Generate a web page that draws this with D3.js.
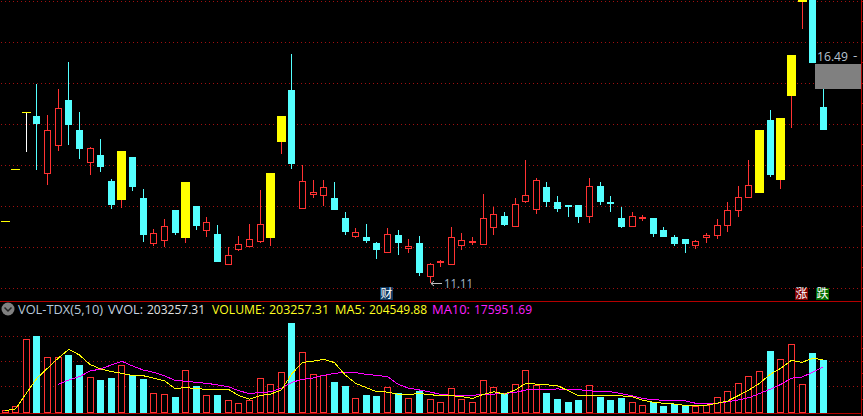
<!DOCTYPE html>
<html><head><meta charset="utf-8">
<script src="https://cdn.jsdelivr.net/npm/d3@7/dist/d3.min.js"></script>
<style>html,body{margin:0;padding:0;background:#000;overflow:hidden}svg{display:block}text{font-family:"Open Sans","Noto Sans",sans-serif}</style>
</head><body><svg id="c" width="863" height="416"></svg>
<script>
const opens=[12.63,13.90,15.29,15.20,13.80,14.50,15.59,14.86,14.09,14.25,13.62,13.15,14.20,13.20,12.11,12.19,12.91,12.23,13.01,12.41,12.33,11.60,11.97,12.04,12.16,12.23,14.57,15.84,12.97,13.31,13.28,13.20,12.72,12.28,12.25,12.11,11.89,12.30,11.99,12.11,11.31,11.63,11.60,12.06,12.14,12.09,12.50,12.76,12.53,13.13,12.94,13.47,13.11,13.03,13.04,12.76,13.50,13.11,12.72,12.51,12.72,12.72,12.41,12.26,12.21,12.05,12.25,12.29,12.54,12.90,13.22,13.33,15.11,13.63,15.70,17.99,19.20,15.43];
const closes=[12.63,13.90,15.29,15.01,14.85,15.39,14.98,14.40,14.41,13.96,13.03,14.35,13.47,12.30,12.34,12.51,12.35,13.59,12.52,12.61,11.64,11.81,12.07,12.20,12.56,13.81,15.20,14.03,13.61,13.34,13.46,12.91,12.37,12.37,12.15,11.93,12.32,12.11,12.02,11.37,11.59,11.67,12.24,12.17,12.15,12.71,12.81,12.55,13.05,13.27,13.63,13.11,12.94,12.99,12.75,13.50,13.11,13.05,12.50,12.76,12.75,12.33,12.26,12.07,12.07,12.15,12.29,12.55,12.91,13.23,13.52,14.87,13.77,15.16,16.68,18.60,16.49,14.87];
const highs=[12.63,13.90,15.29,15.98,15.23,15.85,16.52,15.30,14.45,14.64,13.67,14.35,14.20,13.42,12.45,12.69,12.91,13.59,13.01,12.74,12.55,12.01,12.28,12.57,13.40,13.81,15.20,16.72,14.00,13.64,13.64,13.59,12.86,12.47,12.57,12.13,12.47,12.42,12.20,12.28,11.62,11.69,12.50,12.35,12.25,13.30,12.98,12.86,13.20,14.13,13.69,13.59,13.25,13.03,13.04,13.68,13.60,13.26,12.99,12.87,12.80,12.72,12.50,12.31,12.21,12.19,12.36,12.68,13.11,13.50,14.14,14.87,15.36,15.16,16.68,18.60,19.20,16.10];
const lows=[12.63,13.90,14.33,13.89,13.52,14.35,14.50,14.16,13.76,13.84,12.94,12.96,13.37,12.13,12.03,12.01,12.30,12.11,12.42,12.25,11.64,11.60,11.91,12.04,12.11,12.03,14.28,13.91,12.97,13.20,13.01,12.91,12.30,12.23,12.11,11.72,11.89,11.81,11.86,11.30,11.14,11.52,11.60,11.93,12.06,12.06,12.30,12.52,12.53,13.08,12.81,12.98,12.86,12.74,12.60,12.60,13.04,12.87,12.46,12.51,12.63,12.26,12.24,12.02,11.87,11.97,12.11,12.21,12.38,12.75,13.22,13.33,13.72,13.43,14.92,17.33,16.49,14.87];
const yellowDays=[0,1,2,11,17,25,26,71,73,74,75];
const whiteWickDays=[2];
const vols=[8,22,284,297,214,214,223,184,136,125,133,182,145,129,73,69,59,163,102,65,66,46,34,46,132,108,155,347,233,147,143,117,102,53,66,63,96,74,53,82,50,38,93,50,38,124,96,69,108,163,106,74,51,39,47,104,59,47,55,38,26,38,23,31,23,22,26,57,81,112,139,159,238,206,265,108,231,203.257];
const ma5=[5,12,73,132,171,210,245,223,186,168,158,151,143,142,132,122,91,96,91,89,89,89,64,50,64,70,86,150,194,199,206,193,145,112,95,79,78,69,69,72,68,63,64,60,53,69,79,70,86,112,109,106,103,83,63,63,63,63,63,60,46,38,34,31,26,26,27,34,43,64,86,112,147,171,202,194,210,204.55];
const ma10=[null,null,null,null,null,108,125,138,160,168,184,198,180,164,155,141,124,120,116,112,106,99,83,72,76,79,93,116,128,133,143,151,155,154,147,143,138,108,93,86,78,69,65,65,65,69,70,73,76,86,89,89,90,89,87,83,79,79,72,63,53,48,46,46,44,34,34,34,40,47,56,72,89,108,132,137,155,175.95];
const priceGrid=[11,12,13,14,15,16,17,18];
const priceTicks=d3.range(11,18.5,0.5);
const volGrid=[100.5,198,296];
const volTicks=[50,100.5,149,198,247,296];
const legendTexts=["VOL-TDX(5,10)","VVOL:","203257.31","VOLUME:","203257.31","MA5:","204549.88","MA10:","175951.69"];
const legendX=[18,108,147,212,269,335,369,432,474];
const legendW=[85,35,58,53,60,30,58,38,58];
const legendC=["#b8c8d8","#c8d4e0","#e0e0e0","#ffff20","#ffff20","#ffff20","#ffff20","#ff20ff","#ff20ff"];

const RED="#ff3232",CYAN="#54ffff",YEL="#ffff00",GRID="#a01010",FRAME="#b40000";
const svg=d3.select("#c");
svg.append("rect").attr("width",863).attr("height",416).attr("fill","#000");
const days=d3.range(opens.length);
const x=d3.scalePoint().domain(days).range([4.5,822.8]);
const y=d3.scaleLinear().domain([11,18]).range([288.3,1.3]);
const v=d3.scaleLinear().domain([0,203.257]).range([412,360]);
const X=i=>Math.round(x(i));

const gridG=svg.append("g").attr("shape-rendering","crispEdges");
const dotRow=yy=>gridG.selectAll(null).data(d3.range(1,861,4)).join("rect").attr("x",d=>d).attr("y",Math.floor(yy)).attr("width",1).attr("height",1).attr("fill",GRID);
priceGrid.forEach(p=>dotRow(y(p)));
volGrid.forEach(p=>dotRow(v(p)));
const solid=(x1,x2,y1,y2)=>gridG.append("line").attr("x1",x1).attr("x2",x2).attr("y1",y1).attr("y2",y2).attr("stroke",FRAME);
solid(0,861,301.5,301.5);solid(0,861,413.5,413.5);solid(861.5,861.5,0,416);
priceTicks.forEach(p=>solid(862,863,Math.floor(y(p))+.5,Math.floor(y(p))+.5));
volTicks.forEach(p=>solid(862,863,Math.floor(v(p))+.5,Math.floor(v(p))+.5));

// candles
const cg=svg.append("g").attr("shape-rendering","crispEdges");
days.forEach(i=>{
  const up=closes[i]>=opens[i], yel=yellowDays.includes(i);
  const top=Math.round(y(Math.max(opens[i],closes[i]))), bot=Math.round(y(Math.min(opens[i],closes[i])));
  const wick=whiteWickDays.includes(i)?"#ffffff":(up?RED:CYAN);
  cg.append("line").attr("x1",X(i)+.5).attr("x2",X(i)+.5).attr("y1",Math.round(y(highs[i]))).attr("y2",Math.round(y(lows[i]))).attr("stroke",wick);
  if(yel) cg.append("rect").attr("x",X(i)-4).attr("y",top).attr("width",9).attr("height",Math.max(1,bot-top)).attr("fill",YEL);
  else if(up) cg.append("rect").attr("x",X(i)-3+.5).attr("y",top+.5).attr("width",6).attr("height",Math.max(1,bot-top)).attr("fill","#000").attr("stroke",RED);
  else cg.append("rect").attr("x",X(i)-3).attr("y",top).attr("width",7).attr("height",Math.max(2,bot-top)).attr("fill",CYAN);
});

// volume
const vg=svg.append("g").attr("shape-rendering","crispEdges");
days.forEach(i=>{
  const up=closes[i]>=opens[i], t=Math.round(v(vols[i]));
  if(up) vg.append("rect").attr("x",X(i)-3+.5).attr("y",t+.5).attr("width",6).attr("height",412-t).attr("fill","#000").attr("stroke",RED);
  else vg.append("rect").attr("x",X(i)-3).attr("y",t).attr("width",7).attr("height",413-t).attr("fill",CYAN);
});
const line=d3.line().defined(d=>d[1]!=null).x(d=>x(d[0])+.5).y(d=>v(d[1]));
svg.append("path").attr("d",line(days.map(i=>[i,ma10[i]]))).attr("fill","none").attr("stroke","#ff00ff").attr("stroke-width",1).attr("shape-rendering","crispEdges");
svg.append("path").attr("d",line(days.map(i=>[i,ma5[i]]))).attr("fill","none").attr("stroke",YEL).attr("stroke-width",1).attr("shape-rendering","crispEdges");

// gray box + labels
svg.append("rect").attr("x",815).attr("y",64).attr("width",46).attr("height",25).attr("fill","#808080");
svg.append("text").attr("x",817).attr("y",61).attr("font-size",13.5).attr("textLength",31).attr("lengthAdjust","spacingAndGlyphs").attr("fill","#b8c4d0").text("16.49");
svg.append("text").attr("x",853).attr("y",60).attr("font-size",13.5).attr("fill","#b8c4d0").text("-");
svg.append("path").attr("d","M442,283.5H431M434,281L431,283.5L434,286").attr("fill","none").attr("stroke","#c0c0c0");
svg.append("text").attr("x",444).attr("y",288.3).attr("font-size",13.5).attr("textLength",29).attr("lengthAdjust","spacingAndGlyphs").attr("fill","#a8bccc").text("11.11");

function badge(x0,y0,w,h,bg,t){
  svg.append("rect").attr("x",x0).attr("y",y0).attr("width",w).attr("height",h).attr("fill",bg);
  svg.append("text").attr("x",x0+w/2).attr("y",y0+h-2).attr("text-anchor","middle").attr("font-size",12).attr("fill","#fff").style("font-family","'Noto Sans CJK SC'").text(t);
}
badge(380,287,13,13,"#0f3860","财");
badge(795,288,13,12,"#800000","涨");
badge(816,288,13,12,"#006a00","跌");

// legend
svg.append("circle").attr("cx",8).attr("cy",309).attr("r",6.5).attr("fill","#808080");
svg.append("path").attr("d",d3.line()([[4.5,307.5],[8,311],[11.5,307.5]])).attr("fill","none").attr("stroke","#222").attr("stroke-width",1.5);
legendTexts.forEach((t,i)=>svg.append("text").attr("x",legendX[i]).attr("y",314).attr("font-size",13).attr("textLength",legendW[i]).attr("lengthAdjust","spacingAndGlyphs").attr("fill",legendC[i]).text(t));
</script></body></html>
